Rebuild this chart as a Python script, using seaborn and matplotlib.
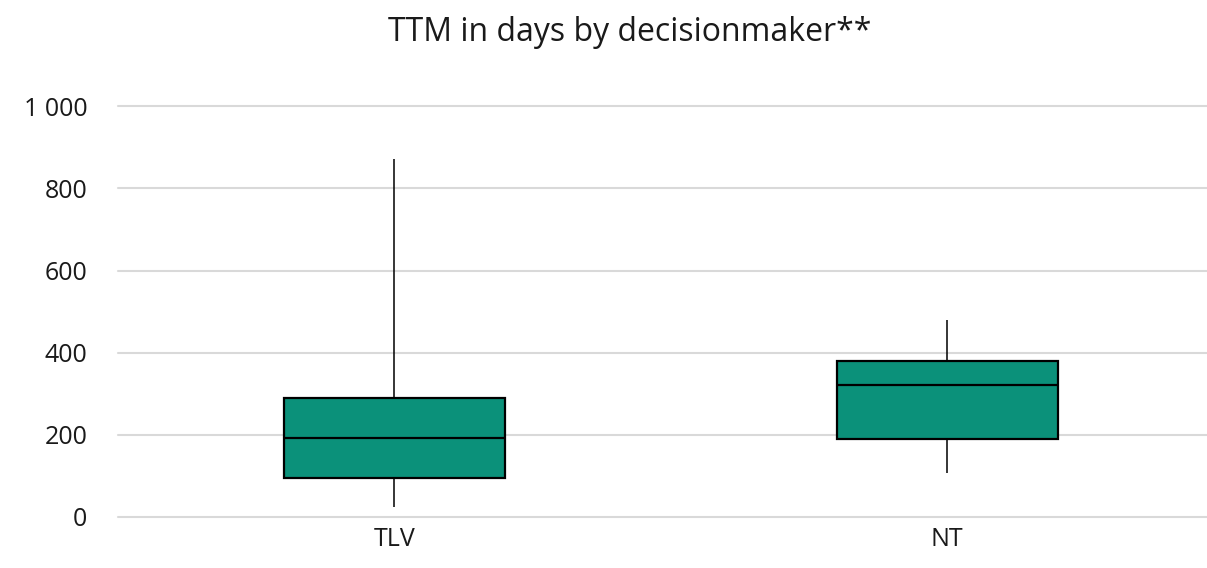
import numpy as np
import pandas as pd
import seaborn as sns
import matplotlib.pyplot as plt
from matplotlib.ticker import FuncFormatter

# five-number summaries (min, Q1, median, Q3, max)
decisionmakers = ["TLV", "NT"]
tlv_days = [24, 94, 193, 290, 871]
nt_days = [106, 190, 321, 380, 480]
y_ticks = [0, 200, 400, 600, 800, 1000]

box_color = "#0b917a"

df = pd.DataFrame(data={
    "decisionmaker": ["TLV"] * len(tlv_days) + ["NT"] * len(nt_days),
    "days": tlv_days + nt_days
})

sns.set_theme(style="white")
plt.rcParams["font.family"] = ["Open Sans", "DejaVu Sans"]

fig = plt.figure(figsize=(12.07, 5.68), dpi=100)
ax = fig.add_axes([0.0978, 0.0898, 0.9022, 0.7231])

sns.boxplot(data=df, x="decisionmaker", y="days", order=decisionmakers,
            color=box_color, saturation=1, width=0.4, whis=(0, 100),
            showcaps=False, linecolor="black", linewidth=1.6,
            whiskerprops={"linewidth": 1.1},
            ax=ax)

ax.set_ylim(0, 1000)
ax.set_xlim(-0.5, 1.47)
ax.set_yticks(y_ticks)
ax.yaxis.set_major_formatter(FuncFormatter(lambda v, p: "{:,}".format(int(v)).replace(",", " ")))
ax.yaxis.grid(True, color="#d9d9d9", linewidth=1.5)
for line in ax.get_ygridlines():
    line.set_clip_on(False)
ax.set_axisbelow(True)
for spine in ax.spines.values():
    spine.set_visible(False)
ax.set(xlabel=None, ylabel=None)
ax.tick_params(axis="y", length=0, pad=22, labelsize=18, labelcolor="#1a1a1a")
ax.tick_params(axis="x", length=0, pad=7, labelsize=18, labelcolor="#1a1a1a")

fig.text(0.522, 0.942, "TTM in days by decisionmaker**", ha="center", va="center",
         fontsize=23, color="#1a1a1a")

plt.savefig("out.png", dpi=100)
